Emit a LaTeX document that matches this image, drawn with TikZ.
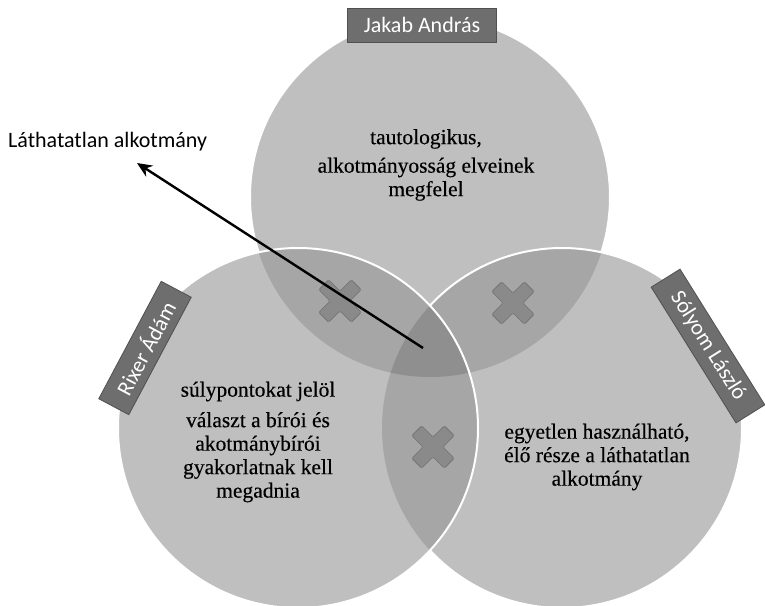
\documentclass[tikz,border=0pt]{standalone}
\usepackage{fontspec}
\setmainfont{Liberation Serif}[FakeBold=0.3]
\newfontfamily\lblfont{Carlito}
\usetikzlibrary{arrows.meta}
\definecolor{cone}{RGB}{191,191,191}
\definecolor{ctwo}{RGB}{166,166,166}
\definecolor{cthree}{RGB}{143,143,143}
\definecolor{crossfill}{RGB}{138,138,138}
\definecolor{crossline}{RGB}{118,118,118}
\definecolor{lblfill}{RGB}{110,110,110}
\definecolor{lblline}{RGB}{80,80,80}
\tikzset{
  outline/.style={draw=white, line width=2pt},
  namebox/.style={fill=lblfill, draw=lblline, line width=0.8pt, text=white,
    font=\lblfont\fontsize{22}{26}\selectfont, minimum height=34pt, inner sep=0pt},
  bodytext/.style={align=center, font=\fontsize{21.5}{23.5}\selectfont, text=black},
  xmark/.pic={\filldraw[fill=crossfill, draw=crossline, line width=0.8pt, rounded corners=1.5pt, rotate=45]
    (-7,23) -- (7,23) -- (7,7) -- (23,7) -- (23,-7) -- (7,-7) -- (7,-23) -- (-7,-23)
    -- (-7,-7) -- (-23,-7) -- (-23,7) -- (-7,7) -- cycle;}
}
\begin{document}
\begin{tikzpicture}[x=1pt, y=-1pt]
\useasboundingbox (0,0) rectangle (765,605);
\coordinate (T) at (430,197);
\coordinate (R) at (562,428);
\coordinate (L) at (298,428);
\def\rad{180pt}
% top circle
\fill[cone] (T) circle[radius=\rad];
\draw[outline] (T) circle[radius=\rad];
% right circle
\fill[cone] (R) circle[radius=\rad];
\begin{scope}
  \clip (T) circle[radius=\rad];
  \fill[ctwo] (R) circle[radius=\rad];
\end{scope}
\draw[outline] (R) circle[radius=\rad];
% left circle
\fill[cone] (L) circle[radius=\rad];
\begin{scope}
  \clip (L) circle[radius=\rad];
  \fill[ctwo] (T) circle[radius=\rad];
  \fill[ctwo] (R) circle[radius=\rad];
  \clip (T) circle[radius=\rad];
  \fill[cthree] (R) circle[radius=\rad];
\end{scope}
\draw[outline] (L) circle[radius=\rad];
% crosses
\pic at (340,301) {xmark};
\pic at (513,303) {xmark};
\pic at (433,447) {xmark};
% texts
\node[bodytext] (ttext) at (426,165) {tautologikus,\\[5pt]alkotmányosság elveinek\\megfelel};
\node[bodytext] (ltext) at (258,442) {súlypontokat jelöl\\[7pt]választ a bírói és\\akotmánybírói\\gyakorlatnak kell\\megadnia};
\node[bodytext] (rtext) at (597,457) {egyetlen használható,\\élő része a láthatatlan\\alkotmány};
% name boxes
\node[namebox, minimum width=149pt] (jakab) at (422,25) {Jakab András};
\node[namebox, minimum width=133pt, rotate=62] (rixer) at (145,348) {Rixer Ádám};
\node[namebox, minimum width=160pt, rotate=-58] (solyom) at (708,346) {Sólyom László};
% arrow and label
\node[anchor=west, inner sep=0pt, font=\lblfont\fontsize{22}{26}\selectfont] (lath) at (8,142) {Láthatatlan alkotmány};
\coordinate (arrS) at (423,348);
\coordinate (arrE) at (137,163);
\draw[line width=2.4pt, -{Stealth[length=15pt, width=13pt]}] (arrS) -- (arrE);
\end{tikzpicture}
\end{document}
